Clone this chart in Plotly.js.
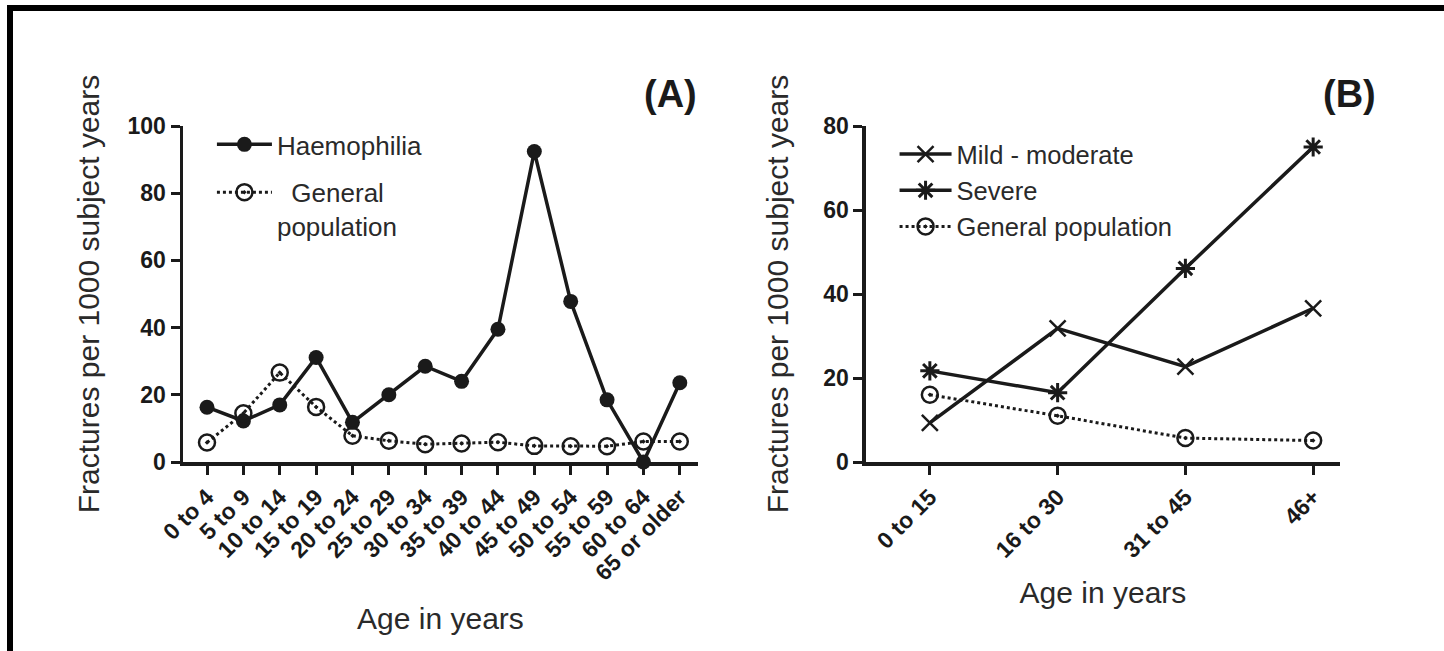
<!DOCTYPE html>
<html>
<head>
<meta charset="utf-8">
<script src="https://cdn.plot.ly/plotly-3.0.1.min.js"></script>
<style>
  html, body { margin: 0; padding: 0; background: #fff; }
  #wrap { position: relative; width: 1444px; height: 651px; overflow: hidden; }
  #chart { width: 1444px; height: 651px; }
  #frame { position: absolute; left: 7px; top: 5px; width: 1460px; height: 700px;
           border-top: 6px solid #000; border-left: 6px solid #000; pointer-events: none; }
</style>
</head>
<body>
<div id="wrap">
  <div id="chart"></div>
  <div id="frame"></div>
</div>
<script>
// Panel A data
const ageGroupsA = ["0 to 4","5 to 9","10 to 14","15 to 19","20 to 24","25 to 29","30 to 34","35 to 39","40 to 44","45 to 49","50 to 54","55 to 59","60 to 64","65 or older"];
const haemophiliaA = [16.3, 12.2, 17, 31.1, 11.8, 20, 28.5, 24, 39.5, 92.4, 47.8, 18.5, 0, 23.6];
const generalA = [5.8, 14.5, 26.6, 16.4, 7.8, 6.3, 5.3, 5.5, 5.9, 4.8, 4.7, 4.7, 6.1, 6.1];

// Panel B data
const ageGroupsB = ["0 to 15","16 to 30","31 to 45","46+"];
const mildModerateB = [9.3, 31.8, 22.7, 36.6];
const severeB = [21.7, 16.5, 46.1, 75];
const generalB = [16, 11, 5.7, 5.1];

const ink = "#1a1a1a";
const fontFam = "Liberation Sans, Arial, sans-serif";

const traces = [
  {x: ageGroupsA, y: haemophiliaA, name: "Haemophilia", xaxis: "x", yaxis: "y",
   mode: "lines+markers", cliponaxis: false, legend: "legend", legendgroup: "a1",
   line: {color: ink, width: 3.5},
   marker: {symbol: "circle", size: 15, color: ink}},
  {x: ageGroupsA, y: generalA, name: "\u00a0\u00a0General<br>population", xaxis: "x", yaxis: "y",
   mode: "lines+markers", cliponaxis: false, legend: "legend", legendgroup: "a2",
   line: {color: ink, width: 3, dash: "dot"},
   marker: {symbol: "circle-open-dot", size: 16, color: ink, line: {width: 2.5, color: ink}}},
  {x: ageGroupsB, y: mildModerateB, name: "Mild - moderate", xaxis: "x2", yaxis: "y2",
   mode: "lines+markers", cliponaxis: false, legend: "legend2",
   line: {color: ink, width: 3.5},
   marker: {symbol: "x-thin-open", size: 16, color: ink, line: {width: 2.5, color: ink}}},
  {x: ageGroupsB, y: severeB, name: "Severe", xaxis: "x2", yaxis: "y2",
   mode: "lines+markers", cliponaxis: false, legend: "legend2",
   line: {color: ink, width: 3.5},
   marker: {symbol: "asterisk-open", size: 16, color: ink, line: {width: 3, color: ink}}},
  {x: ageGroupsB, y: generalB, name: "General population", xaxis: "x2", yaxis: "y2",
   mode: "lines+markers", cliponaxis: false, legend: "legend2",
   line: {color: ink, width: 3, dash: "dot"},
   marker: {symbol: "circle-open-dot", size: 16, color: ink, line: {width: 2.5, color: ink}}}
];

const tickFont = {family: fontFam, size: 23, color: ink, weight: "bold"};
const titleFont = {family: fontFam, size: 30, color: "#2a2a2a"};

function xAxis(range, domain, anchor, standoff) {
  return {
    domain: domain, range: range, anchor: anchor, type: "category",
    showline: true, linecolor: ink, linewidth: 3.5, mirror: false,
    showgrid: false, zeroline: false,
    ticks: "outside", ticklen: 9, tickwidth: 3, tickcolor: ink,
    tickangle: -45, tickfont: {family: fontFam, size: 23, color: ink, weight: "bold"},
    title: {text: "Age in years", font: titleFont, standoff: standoff},
    automargin: false, fixedrange: true
  };
}
function yAxis(range, dtick, anchor, standoff) {
  return {
    domain: [0, 1], range: range, anchor: anchor,
    showline: true, linecolor: ink, linewidth: 3.5,
    showgrid: false, zeroline: false,
    ticks: "outside", ticklen: 9, tickwidth: 3, tickcolor: ink,
    dtick: dtick, tick0: 0, tickfont: tickFont,
    title: {text: "Fractures per 1000 subject years", font: titleFont, standoff: standoff},
    automargin: false, fixedrange: true
  };
}

const layout = {
  width: 1444, height: 651,
  margin: {l: 183, r: 104, t: 126, b: 189},
  paper_bgcolor: "#fff", plot_bgcolor: "rgba(0,0,0,0)",
  showlegend: true,
  xaxis: xAxis([-0.66, 13.5], [0, 0.4451], "y", 24),
  yaxis: yAxis([0, 100], 20, "x", 20),
  xaxis2: xAxis([-0.5, 3.21], [0.5903, 1.0], "y2", 21),
  yaxis2: yAxis([0, 80], 20, "x2", 27),
  legend: {x: 0.025, y: 1.015, xanchor: "left", yanchor: "top", bgcolor: "rgba(0,0,0,0)",
           font: {family: fontFam, size: 26, color: "#2a2a2a"}, itemwidth: 55,
           tracegroupgap: 11, valign: "top", itemclick: false, itemdoubleclick: false},
  legend2: {x: 0.615, y: 0.985, xanchor: "left", yanchor: "top", bgcolor: "rgba(0,0,0,0)",
           font: {family: fontFam, size: 25.5, color: "#2a2a2a"}, itemwidth: 52,
           tracegroupgap: 0, valign: "middle", itemclick: false, itemdoubleclick: false},
  annotations: [
    {text: "(A)", xref: "paper", yref: "paper", x: 0.421, y: 1.095, yanchor: "middle", xanchor: "center",
     showarrow: false, font: {family: fontFam, size: 38, color: ink, weight: "bold"}},
    {text: "(B)", xref: "paper", yref: "paper", x: 1.0086, y: 1.095, yanchor: "middle", xanchor: "center",
     showarrow: false, font: {family: fontFam, size: 38, color: ink, weight: "bold"}}
  ]
};

Plotly.newPlot("chart", traces, layout, {displayModeBar: false, staticPlot: true});
</script>
</body>
</html>
